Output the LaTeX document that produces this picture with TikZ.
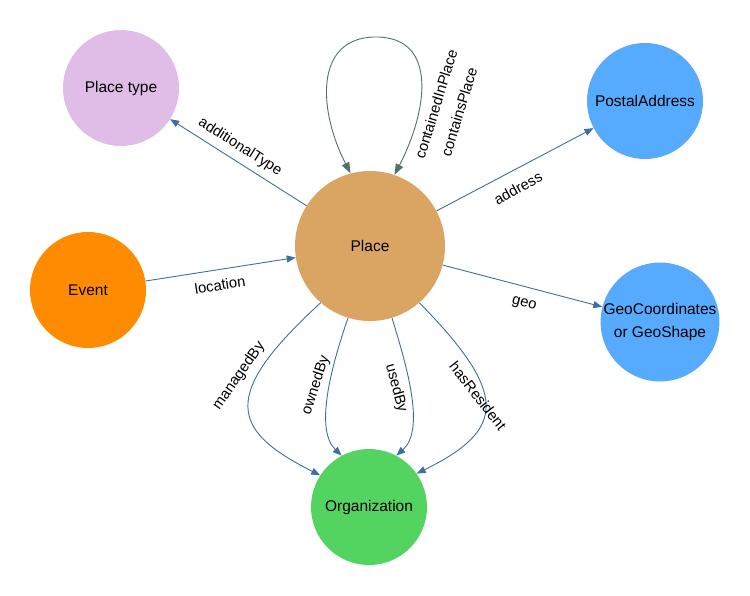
\documentclass[tikz,border=0pt]{standalone}
\usepackage{fontspec}
\setmainfont{Liberation Sans}
\usetikzlibrary{arrows.meta}
\definecolor{cPT}{HTML}{E0BDE6}
\definecolor{cPlace}{HTML}{DAA562}
\definecolor{cBlue}{HTML}{57ABFF}
\definecolor{cEvent}{HTML}{FF8C00}
\definecolor{cOrg}{HTML}{53D35F}
\definecolor{cEdge}{HTML}{3B6FA8}
\definecolor{cLoop}{HTML}{51726A}
\tikzset{
  ent/.style={circle, inner sep=0pt, minimum size=116pt, font=\fontsize{15.5}{23}\selectfont, align=center},
  big/.style={ent, minimum size=150pt},
  rel/.style={draw=cEdge, line width=0.9pt, -{Triangle[length=9pt,width=7pt]}},
  loopedge/.style={draw=cLoop, line width=0.9pt, {Triangle[length=11pt,width=8pt]}-{Triangle[length=11pt,width=8pt]}},
  lbl/.style={font=\fontsize{14.8}{16}\selectfont, inner sep=0pt}
}
\begin{document}
\begin{tikzpicture}[x=1pt,y=-1pt]
\useasboundingbox (0,0) rectangle (750,596);
\node[ent, fill=cPT] (PT) at (121,88) {Place type};
\node[big, fill=cPlace] (P) at (370,246) {Place};
\node[ent, fill=cBlue] (PA) at (645,101) {PostalAddress};
\node[ent, fill=cEvent] (E) at (88,290) {Event};
\node[ent, fill=cBlue] (G) at (660,322) {GeoCoordinates\\or GeoShape};
\node[ent, fill=cOrg] (O) at (369,507) {Organization};

\draw[rel] (P) -- (PT);
\draw[rel] (P) -- (PA);
\draw[rel] (E) -- (P);
\draw[rel] (P) -- (G);

\coordinate (top) at (376,37);
\draw[loopedge] (P.105) .. controls (318,110) and (314,37) .. (top)
  .. controls (438,37) and (428,110) .. (P.71);

\draw[rel] (P.229) .. controls (220,395) and (230,430) .. (O.147);
\draw[rel] (P.253) .. controls (330,370) and (315,430) .. (O.118);
\draw[rel] (P.287) .. controls (408,370) and (425,430) .. (O.62);
\draw[rel] (P.311) .. controls (510,395) and (505,430) .. (O.35);

\node[lbl, rotate=-32.4] (l1) at (240,147) {additionalType};
\node[lbl, rotate=73] (l2) at (436,104) {containedInPlace};
\node[lbl, rotate=73] (l3) at (459,112) {containsPlace};
\node[lbl, rotate=29] (l4) at (518,188) {address};
\node[lbl, rotate=8.7] (l5) at (220,285) {location};
\node[lbl, rotate=-15.6] (l6) at (524,304) {geo};
\node[lbl, rotate=55] (l7) at (239,376) {managedBy};
\node[lbl, rotate=72] (l8) at (316,385) {ownedBy};
\node[lbl, rotate=-75] (l9) at (396,388) {usedBy};
\node[lbl, rotate=-52] (l10) at (478,396) {hasResident};
\end{tikzpicture}
\end{document}
